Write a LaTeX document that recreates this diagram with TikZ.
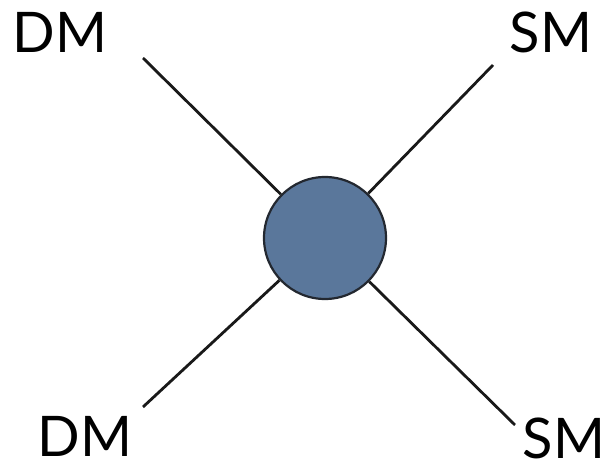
\documentclass[tikz,border=0pt]{standalone}
\usepackage{fontspec}
\setmainfont{Lato}
\definecolor{blobfill}{RGB}{90,119,155}
\definecolor{blobline}{RGB}{35,40,48}
\definecolor{linecol}{RGB}{25,25,25}
\begin{document}
\begin{tikzpicture}[x=1pt,y=-1pt,
  leg/.style={draw=linecol,line width=2.8pt},
  lbl/.style={anchor=base,inner sep=0pt,text depth=0pt,font=\fontsize{56}{60}\selectfont,text=black},
  blob/.style={circle,draw=blobline,line width=2.2pt,fill=blobfill,minimum size=122pt,inner sep=0pt}]
\useasboundingbox (0,0) rectangle (606,470);
\node[blob] (c) at (325,238) {};
\coordinate (tl) at (143,58);
\coordinate (tr) at (493,65);
\coordinate (bl) at (143,407);
\coordinate (br) at (515,425);
\draw[leg] (c) -- (tl);
\draw[leg] (c) -- (tr);
\draw[leg] (c) -- (bl);
\draw[leg] (c) -- (br);
\node[lbl] (dm1) at (60,53) {DM};
\node[lbl] (sm1) at (551,53) {SM};
\node[lbl] (dm2) at (85,457) {DM};
\node[lbl] (sm2) at (564,459) {SM};
\end{tikzpicture}
\end{document}
